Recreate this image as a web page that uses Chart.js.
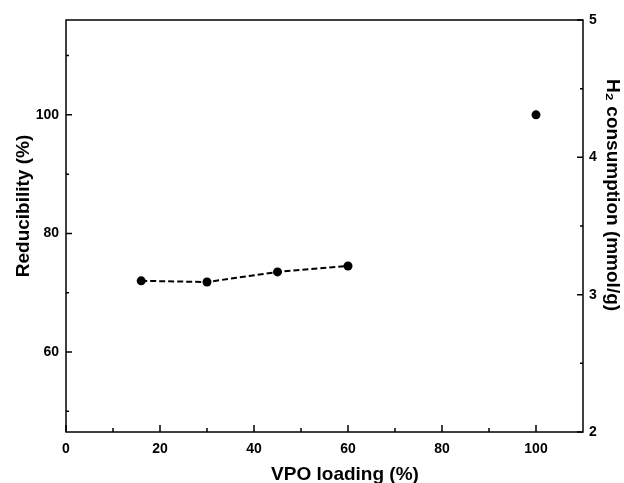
<!DOCTYPE html>
<html>
<head>
<meta charset="utf-8">
<script src="https://cdn.jsdelivr.net/npm/chart.js@4/dist/chart.umd.min.js"></script>
<style>
    html, body { margin: 0; padding: 0; background: #fff; }
    #wrap { width: 624px; height: 483px; }
</style>
</head>
<body>
<div id="wrap"><canvas id="chart"></canvas></div>
<script>
// Données
const loading = [16, 30, 45, 60];
const reducibility = [72.0, 71.8, 73.5, 74.5];
const pureLoading = [100];
const pureReducibility = [100];

// Graduations
const xTicks = [0, 20, 40, 60, 80, 100];
const xMinor = [10, 30, 50, 70, 90];
const leftTicks = [60, 80, 100];
const leftMinor = [50, 70, 90, 110];
const rightTicks = [2, 3, 4, 5];
const rightMinor = [2.5, 3.5, 4.5];

// Titres des axes
const xTitle = 'VPO loading (%)';
const leftTitle = 'Reducibility (%)';
const rightTitle = 'H\u2082 consumption (mmol/g)';

const FONT = 'Liberation Sans, Arial, sans-serif';
const TITLE_FONT = 'bold 19px ' + FONT;

// Cadre, graduations vers l'intérieur et titres des axes
const framePlugin = {
    id: 'frame',
    afterDraw(chart) {
        const ctx = chart.ctx;
        const a = chart.chartArea;
        const sx = chart.scales.x, sy = chart.scales.y, sr = chart.scales.y2;
        ctx.save();
        ctx.strokeStyle = '#000';
        ctx.lineWidth = 1.5;
        ctx.strokeRect(a.left, a.top, a.right - a.left, a.bottom - a.top);
        ctx.beginPath();
        const tick = (vals, len, fn) => vals.forEach(v => fn(v, len));
        const bottom = (v, len) => { const p = sx.getPixelForValue(v); ctx.moveTo(p, a.bottom); ctx.lineTo(p, a.bottom - len); };
        const left = (v, len) => { const p = sy.getPixelForValue(v); ctx.moveTo(a.left, p); ctx.lineTo(a.left + len, p); };
        const right = (v, len) => { const p = sr.getPixelForValue(v); ctx.moveTo(a.right, p); ctx.lineTo(a.right - len, p); };
        tick(xTicks, 7, bottom);
        tick(xMinor, 4, bottom);
        tick(leftTicks, 6, left);
        tick(leftMinor, 3, left);
        tick(rightTicks, 6, right);
        tick(rightMinor, 3, right);
        ctx.stroke();

        // titres
        ctx.fillStyle = '#000';
        ctx.font = TITLE_FONT;
        ctx.textAlign = 'center';
        ctx.textBaseline = 'alphabetic';
        ctx.fillText(xTitle, 345, 480);

        ctx.textBaseline = 'middle';
        ctx.save();
        ctx.translate(24, 206);
        ctx.rotate(-Math.PI / 2);
        ctx.fillText(leftTitle, 0, 0);
        ctx.restore();

        ctx.save();
        ctx.translate(612, 195);
        ctx.rotate(Math.PI / 2);
        ctx.fillText(rightTitle, 0, 0);
        ctx.restore();
        ctx.restore();
    }
};

const tickFont = { family: FONT, size: 14, weight: 'bold' };

const ctx = document.getElementById('chart').getContext('2d');
new Chart(ctx, {
    type: 'scatter',
    data: {
        datasets: [{
            data: loading.map((x, i) => ({ x: x, y: reducibility[i] })),
            showLine: true,
            borderColor: '#000',
            borderWidth: 2,
            borderDash: [6, 3],
            backgroundColor: '#000',
            pointRadius: 4.5,
            pointBorderWidth: 0,
            yAxisID: 'y'
        }, {
            data: pureLoading.map((x, i) => ({ x: x, y: pureReducibility[i] })),
            showLine: false,
            backgroundColor: '#000',
            borderColor: '#000',
            pointRadius: 4.5,
            pointBorderWidth: 0,
            yAxisID: 'y'
        }]
    },
    options: {
        responsive: true,
        maintainAspectRatio: false,
        animation: false,
        layout: { padding: { top: 20, left: 0, right: 0, bottom: 0 } },
        plugins: { legend: { display: false }, tooltip: { enabled: false } },
        scales: {
            x: {
                type: 'linear',
                min: 0,
                max: 110,
                afterBuildTicks: s => { s.ticks = xTicks.map(v => ({ value: v })); },
                afterFit: s => { s.height = 51; },
                grid: { display: false, drawTicks: false },
                border: { display: false },
                ticks: { color: '#000', padding: 9, font: tickFont }
            },
            y: {
                position: 'left',
                min: 46.5,
                max: 116,
                afterBuildTicks: s => { s.ticks = leftTicks.map(v => ({ value: v })); },
                afterFit: s => { s.width = 66; },
                grid: { display: false, drawTicks: false },
                border: { display: false },
                ticks: { color: '#000', padding: 7, font: tickFont }
            },
            y2: {
                position: 'right',
                display: true,
                min: 2,
                max: 5,
                afterBuildTicks: s => { s.ticks = rightTicks.map(v => ({ value: v })); },
                afterFit: s => { s.width = 41; },
                grid: { display: false, drawTicks: false },
                border: { display: false },
                ticks: { color: '#000', padding: 6, font: tickFont }
            }
        }
    },
    plugins: [framePlugin]
});
</script>
</body>
</html>
